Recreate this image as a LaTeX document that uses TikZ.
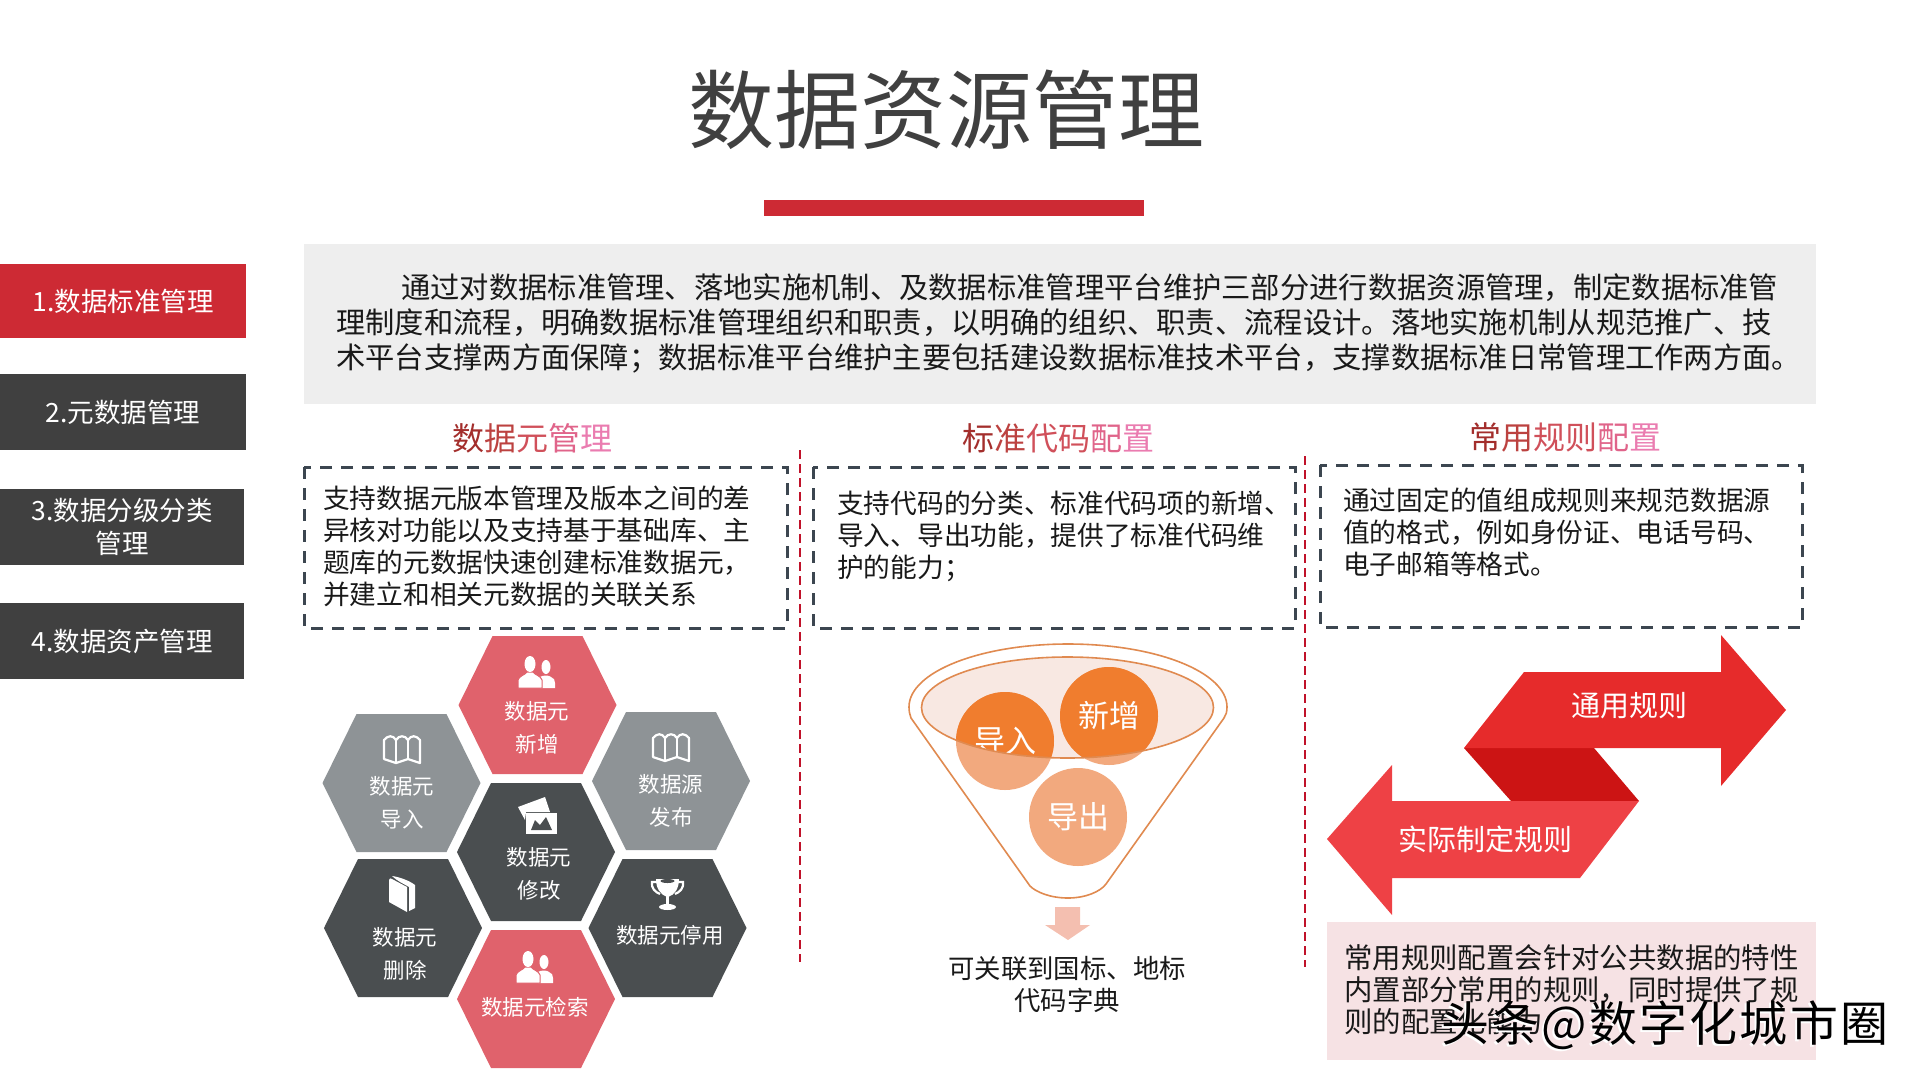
\documentclass[tikz,border=0pt]{standalone}
\usepackage{fontspec}
\setmainfont{Noto Sans CJK SC}
\newfontfamily\markfont[LetterSpace=4.5]{Noto Sans CJK SC}
\usetikzlibrary{positioning}

\definecolor{barred}{HTML}{CD2A34}
\definecolor{tabdark}{HTML}{404040}
\definecolor{panelgrey}{HTML}{EEEEEE}
\definecolor{titlegrey}{HTML}{404040}
\definecolor{dashdark}{HTML}{3C4650}
\definecolor{splitred}{HTML}{C0122A}
\definecolor{hexred}{HTML}{E0626C}
\definecolor{hexgrey}{HTML}{8E9396}
\definecolor{hexdark}{HTML}{4A4E50}
\definecolor{funnelline}{HTML}{E08A50}
\definecolor{funnelfill}{HTML}{F8E8E2}
\definecolor{balldark}{HTML}{F07D2E}
\definecolor{balllight}{HTML}{F2A97E}
\definecolor{downpink}{HTML}{F4BFB0}
\definecolor{ruleupper}{HTML}{E62B2B}
\definecolor{rulelower}{HTML}{EE4145}
\definecolor{rulefold}{HTML}{CC1414}
\definecolor{notepink}{HTML}{F6E2E4}
\definecolor{hdrA}{HTML}{A32E2C}
\definecolor{hdrB}{HTML}{BC4240}
\definecolor{hdrC}{HTML}{D0505A}
\definecolor{hdrD}{HTML}{E0648A}
\definecolor{hdrE}{HTML}{EA7CB0}

% full-width comma and semicolon
\newcommand{\fwcomma}{\char"FF0C\relax}
\newcommand{\fwsemi}{\char"FF1B\relax}

% one hexagon cell: name, centre x, centre y, colour, text x, text y, text
\newcommand{\hexcell}[7]{%
  \fill[#4] (#2-79,#3) -- (#2-45,#3-69) -- (#2+45,#3-69) -- (#2+79,#3) -- (#2+45,#3+69) -- (#2-45,#3+69) -- cycle;
  \node[hextext] (#1) at (#5,#6) {#7};}

% two people, centre x, centre y, colour behind
\newcommand{\peopleicon}[3]{%
  \begin{scope}[shift={(#1,#2)}]
    \fill[white] (9,-5) ellipse (4.5 and 7);
    \fill[white] (3,16) -- (3,5) .. controls (6,3) and (12,3) .. (14,5) .. controls (17,6) and (18,8) .. (18,11) -- (18,16) -- cycle;
    \fill[white,draw=#3,line width=1] (-19,16) -- (-19,8) .. controls (-18,4) and (-12,3) .. (-10,0) -- (-4,0) .. controls (-2,3) and (4,4) .. (5,8) -- (5,16) -- cycle;
    \fill[white] (-7,-8) ellipse (5.5 and 8);
  \end{scope}}

% folded map outline, centre x, centre y
\newcommand{\mapicon}[2]{%
  \begin{scope}[shift={(#1,#2)},white,line width=2.2,line join=round]
    \draw (-18,10) -- (-18,-9) .. controls (-14,-14) and (-9,-14) .. (-6,-9) .. controls (-3,-14) and (3,-14) .. (6,-9) .. controls (9,-14) and (14,-14) .. (18,-9) -- (18,14) -- (6,10) -- (-6,14) -- cycle;
    \draw (-6,-9) -- (-6,14);
    \draw (6,-9) -- (6,10);
  \end{scope}}

\begin{document}
\begin{tikzpicture}[
    x=1pt, y=-1pt,
    tab/.style={rectangle, fill=tabdark, text=white, minimum width=246pt, minimum height=75pt, inner sep=0pt, align=center, font=\fontsize{26.5}{33}\selectfont},
    bodytext/.style={anchor=west, inner sep=0pt, align=left, text=black!90},
    header/.style={inner sep=0pt, font=\fontsize{32}{38}\selectfont},
    dashbox/.style={rectangle, draw=dashdark, line width=3pt, dash pattern=on 12pt off 9pt, inner sep=0pt},
    split/.style={draw=splitred, line width=2pt, dash pattern=on 9pt off 5pt},
    hextext/.style={inner sep=0pt, text=white, align=center, font=\fontsize{21.5}{32.5}\selectfont},
    ball/.style={circle, minimum size=98pt, inner sep=0pt, text=white, font=\fontsize{31}{36}\selectfont},
    ruletext/.style={inner sep=0pt, text=white, font=\fontsize{29}{34}\selectfont}
]
\useasboundingbox (0,0) rectangle (1920,1080);

% Title
\node[inner sep=0pt, text=titlegrey, font=\fontsize{86}{100}\selectfont] (title) at (946,110) {数据资源管理};
\node[rectangle, fill=barred, minimum width=380pt, minimum height=16pt, inner sep=0pt] (bar) at (954,208) {};

% Left tabs
\node[tab, fill=barred, minimum height=74pt] (tabone) at (123,301) {1.数据标准管理};
\node[tab, below=36pt of tabone, minimum height=76pt] (tabtwo) {2.元数据管理};
\node[tab, below=38pt of tabtwo, minimum width=244pt, xshift=-1pt, minimum height=76pt] (tabthree) {3.数据分级分类\\管理};
\node[tab, below=38pt of tabthree, minimum width=244pt, minimum height=76pt] (tabfour) {4.数据资产管理};

% Summary panel
\fill[panelgrey] (304,244) rectangle (1816,404);
\node[bodytext, font=\fontsize{29.3}{35}\selectfont] (summary) at (336,323.5) {\hspace*{65pt}通过对数据标准管理、落地实施机制、及数据标准管理平台维护三部分进行数据资源管理\fwcomma 制定数据标准管\\理制度和流程\fwcomma 明确数据标准管理组织和职责\fwcomma 以明确的组织、职责、流程设计。落地实施机制从规范推广、技\\术平台支撑两方面保障\fwsemi 数据标准平台维护主要包括建设数据标准技术平台\fwcomma 支撑数据标准日常管理工作两方面。};

% Column headers
\node[header] (headone) at (532,438) {\textcolor{hdrA}{数}\textcolor{hdrB}{据}\textcolor{hdrC}{元}\textcolor{hdrD}{管}\textcolor{hdrE}{理}};
\node[header] (headtwo) at (1058,438) {\textcolor{hdrA}{标}\textcolor{hdrB}{准}\textcolor{hdrC}{代}\textcolor{hdrC}{码}\textcolor{hdrD}{配}\textcolor{hdrE}{置}};
\node[header] (headthree) at (1565,437) {\textcolor{hdrA}{常}\textcolor{hdrB}{用}\textcolor{hdrC}{规}\textcolor{hdrC}{则}\textcolor{hdrD}{配}\textcolor{hdrE}{置}};

% Dashed boxes
\draw[dashbox] (304,467) rectangle (787,628);
\draw[dashbox] (813,467) rectangle (1295,628);
\draw[dashbox] (1320,465) rectangle (1802,627);
\node[bodytext, font=\fontsize{26.7}{32}\selectfont] (textone) at (323,546) {支持数据元版本管理及版本之间的差\\异核对功能以及支持基于基础库、主\\题库的元数据快速创建标准数据元\fwcomma\\并建立和相关元数据的关联关系};
\node[bodytext, font=\fontsize{26.7}{32}\selectfont] (texttwo) at (837,536) {支持代码的分类、标准代码项的新增、\\导入、导出功能\fwcomma 提供了标准代码维\\护的能力\fwsemi};
\node[bodytext, font=\fontsize{26.7}{32}\selectfont] (textthree) at (1343,532) {通过固定的值组成规则来规范数据源\\值的格式\fwcomma 例如身份证、电话号码、\\电子邮箱等格式。};

% Dividers
\coordinate (splitonetop) at (800,450);
\coordinate (splitonebot) at (800,962);
\coordinate (splittwotop) at (1305,456);
\coordinate (splittwobot) at (1305,967);
\draw[split] (splitonetop) -- (splitonebot);
\draw[split] (splittwotop) -- (splittwobot);

% Hexagons
\hexcell{hexadd}{537.5}{705}{hexred}{537}{728}{数据元\\新增}
\hexcell{heximport}{401.5}{783}{hexgrey}{402}{803}{数据元\\导入}
\hexcell{hexpublish}{671}{781}{hexgrey}{671}{801}{数据源\\发布}
\hexcell{hexedit}{536}{852}{hexdark}{539}{874}{数据元\\修改}
\hexcell{hexdelete}{403}{928}{hexdark}{405}{954}{数据元\\删除}
\hexcell{hexstop}{667.5}{928}{hexdark}{670}{935}{数据元停用}
\hexcell{hexsearch}{536}{999}{hexred}{535}{1007}{数据元检索}

% Hexagon icons
\peopleicon{537}{672}{hexred}
\peopleicon{535}{967}{hexred}
\mapicon{402}{749}
\mapicon{671}{747}
% picture
\fill[white] (518,807) -- (545,797) -- (550,812) -- (526,812) -- (525,820) -- cycle;
\fill[white] (526,813) rectangle (557,834);
\fill[hexdark] (531,830) -- (535,820) -- (540,825) -- (546,817) -- (552,830) -- cycle;
% book
\fill[white] (392,876) .. controls (400,877) and (410,881) .. (415,885) -- (415,908) -- (409,911) -- (409,887) .. controls (404,884) and (397,881) .. (392,876) -- cycle;
\fill[white] (389,880) .. controls (389,878) and (391,878) .. (392,879) -- (407,887) -- (407,912) -- (389,902) -- cycle;
% trophy
\fill[white] (656,879) -- (679,879) .. controls (679,888) and (675,895) .. (668,897) .. controls (660,895) and (656,888) .. (656,879) -- cycle;
\draw[white, line width=2.2] (657,882) -- (652,882) .. controls (651,888) and (655,892) .. (660,894);
\draw[white, line width=2.2] (678,882) -- (683,882) .. controls (684,888) and (680,892) .. (675,894);
\fill[white] (666,896) rectangle (669,905);
\fill[white] (667.5,907) ellipse (8.5 and 3);
\fill[hexdark] (667.5,881) ellipse (7 and 2);

% Funnel
\draw[funnelline, line width=1.6, fill=white] (909,707) .. controls (909,672) and (980,644) .. (1068,644) .. controls (1156,644) and (1227,672) .. (1227,707) .. controls (1227,712) and (1226,715) .. (1224,718) -- (1106,884) .. controls (1100,892) and (1085,898) .. (1068,898) .. controls (1050,898) and (1036,892) .. (1030,886) -- (911,718) .. controls (910,715) and (909,712) .. (909,707) -- cycle;
\fill[funnelfill] (1067.5,707.5) ellipse (146 and 50.5);
\node[ball, fill=balllight] (ballimport) at (1005,741) {};
\node[ball, fill=balllight] (balladd) at (1109,716) {};
\node[ball, fill=balllight] (ballexport) at (1078,817) {导出};
\begin{scope}
  \clip (1067.5,707.5) ellipse (146 and 50.5);
  \node[ball, fill=balldark] (ballimporttop) at (1005,741) {导入};
  \node[ball, fill=balldark] (balladdtop) at (1109,716) {新增};
\end{scope}
\draw[funnelline, line width=1.6] (1067.5,707.5) ellipse (146 and 50.5);

% Funnel result
\fill[downpink] (1055,907) -- (1080,907) -- (1080,925) -- (1090,925) -- (1068,940) -- (1045,925) -- (1055,925) -- cycle;
\node[inner sep=0pt, align=center, text=black!90, font=\fontsize{26.4}{32}\selectfont] (funnelnote) at (1067,984) {可关联到国标、地标\\代码字典};

% Rule arrows
\fill[rulefold] (1464,748) -- (1594,748) -- (1639,801) -- (1511,801) -- cycle;
\fill[ruleupper] (1464,748) -- (1524,672) -- (1721,672) -- (1721,635) -- (1786,710) -- (1721,786) -- (1721,748) -- cycle;
\fill[rulelower] (1639,801) -- (1580,878) -- (1392,878) -- (1392,915) -- (1327,839) -- (1392,765) -- (1392,801) -- cycle;
\node[ruletext] (ruleupperlabel) at (1629,706) {通用规则};
\node[ruletext] (rulelowerlabel) at (1485,839) {实际制定规则};

% Note box
\fill[notepink] (1327,922) rectangle (1816,1060);
\node[bodytext, font=\fontsize{28.4}{32}\selectfont] (notetext) at (1344,990) {常用规则配置会针对公共数据的特性\\内置部分常用的规则\fwcomma 同时提供了规\\则的配置化能力};

% Watermark
\node[inner sep=0pt, text=white, font=\markfont\fontsize{48}{54}\selectfont] (markshadow) at (1663,1027) {头条@数字化城市圈};
\node[inner sep=0pt, text=black, font=\markfont\fontsize{48}{54}\selectfont] (mark) at (1665,1025) {头条@数字化城市圈};

\end{tikzpicture}
\end{document}
